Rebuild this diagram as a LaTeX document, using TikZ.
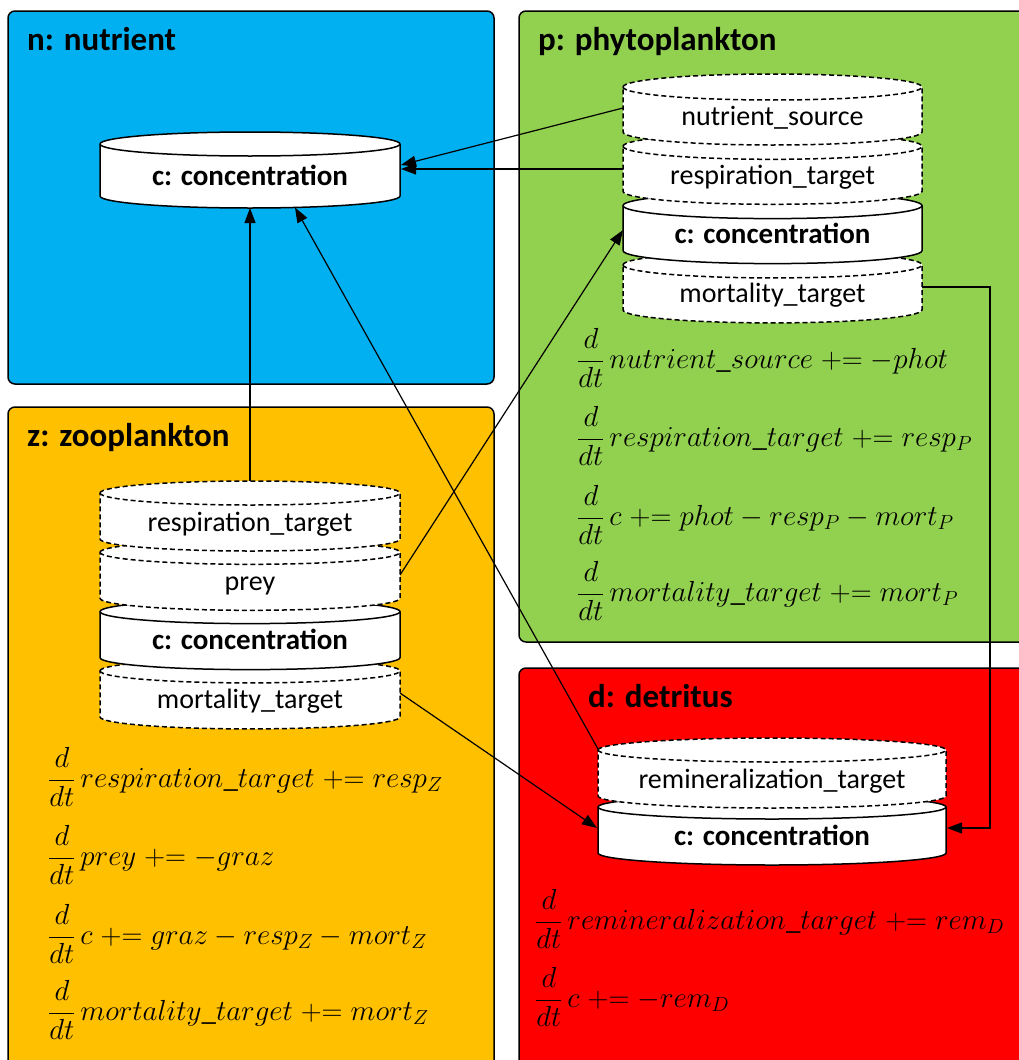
\RequirePackage{fix-cm}
\documentclass[tikz,border=0pt]{standalone}
\usepackage{fontspec}
\setmainfont{Carlito}
\usetikzlibrary{arrows.meta}

\definecolor{nblue}{HTML}{00B0F0}
\definecolor{pgreen}{HTML}{92D050}
\definecolor{zorange}{HTML}{FFC000}
\definecolor{dred}{HTML}{FF0000}

% "+=" as one relation
\newcommand{\pe}{\mathrel{+}\mathrel{=}}
\newcommand{\ddt}{\frac{d}{dt}\,}

% One can-shaped segment of a stacked cylinder:
% #1 centre x, #2 half width, #3 y of top ellipse centre, #4 side height, #5 ellipse half height, #6 style
\newcommand{\canseg}[6]{%
  \path[#6] ({#1-#2},#3) arc[start angle=180,end angle=0,x radius=#2pt,y radius=#5pt]
     -- ({#1+#2},{#3+#4}) arc[start angle=0,end angle=-180,x radius=#2pt,y radius=#5pt] -- cycle;
  \path[#6,fill=none] ({#1-#2},#3) arc[start angle=180,end angle=360,x radius=#2pt,y radius=#5pt];
}

\tikzset{
  panel/.style={draw=black, line width=1.5pt, rounded corners=7pt},
  title/.style={anchor=base west, inner sep=0pt, font=\fontsize{33}{40}\selectfont\bfseries},
  lbl/.style={inner sep=0pt, text height=20pt, text depth=6pt, font=\fontsize{28}{34}\selectfont},
  clbl/.style={lbl, font=\fontsize{29}{34}\selectfont\bfseries},
  eqn/.style={anchor=base west, inner sep=0pt, font=\fontsize{29}{35}\selectfont},
  solidseg/.style={draw=black, fill=white, line width=1.5pt},
  dashseg/.style={solidseg, dash pattern=on 5pt off 3pt},
  flow/.style={draw=black, line width=1.2pt, -{Triangle[length=15pt,width=11pt]}},
}

\begin{document}
\begin{tikzpicture}[x=1pt,y=-1pt]
\useasboundingbox (0,0) rectangle (1019,1060);
\clip (0,0) rectangle (1019,1060);

% compartments
\path[panel, fill=nblue]   (8,11)    rectangle (494,384);
\path[panel, fill=pgreen]  (519,11)  rectangle (1040,642);
\path[panel, fill=zorange] (8,407)   rectangle (494,1080);
\path[panel, fill=dred]    (519,668) rectangle (1040,1080);

\node[title] (ntitle) at (27,50)   {n: nutrient};
\node[title] (ptitle) at (538,50)  {p: phytoplankton};
\node[title] (ztitle) at (27,446)  {z: zooplankton};
\node[title] (dtitle) at (588,707) {d: detritus};

% nutrient
\canseg{250}{150}{144}{52}{12}{solidseg}
\node[clbl] (nc) at (250,178) {c: concentration};

% phytoplankton stack (bottom segment first)
\canseg{772.5}{149.5}{264.9}{45}{13}{dashseg}
\canseg{772.5}{149.5}{205.6}{45}{13}{solidseg}
\canseg{772.5}{149.5}{146.3}{45}{13}{dashseg}
\canseg{772.5}{149.5}{87}{45}{13}{dashseg}
\node[lbl]  (pns) at (772.5,118)   {nutrient\_source};
\node[lbl]  (prt) at (772.5,177.3) {respiration\_target};
\node[clbl] (pc)  at (772.5,236.6) {c: concentration};
\node[lbl]  (pmt) at (772.5,295.9) {mortality\_target};

% zooplankton stack
\canseg{250}{150}{670.9}{46}{12}{dashseg}
\canseg{250}{150}{611.6}{46}{12}{solidseg}
\canseg{250}{150}{552.3}{46}{12}{dashseg}
\canseg{250}{150}{493}{46}{12}{dashseg}
\node[lbl]  (zrt) at (250,524)   {respiration\_target};
\node[lbl]  (zpr) at (250,583.3) {prey};
\node[clbl] (zc)  at (250,642.6) {c: concentration};
\node[lbl]  (zmt) at (250,701.9) {mortality\_target};

% detritus stack
\canseg{772}{174}{807}{46}{12}{solidseg}
\canseg{772}{174}{750}{46}{12}{dashseg}
\node[lbl]  (drt) at (772,781) {remineralization\_target};
\node[clbl] (dc)  at (772,838) {c: concentration};

% rate equations
\node[eqn] (peq1) at (577,368) {$\displaystyle\ddt nutrient\_source \pe -phot$};
\node[eqn] (peq2) at (577,446) {$\displaystyle\ddt respiration\_target \pe resp_P$};
\node[eqn] (peq3) at (577,525) {$\displaystyle\ddt c \pe phot - resp_P - mort_P$};
\node[eqn] (peq4) at (577,601) {$\displaystyle\ddt mortality\_target \pe mort_P$};

\node[eqn] (zeq1) at (48,787)  {$\displaystyle\ddt respiration\_target \pe resp_Z$};
\node[eqn] (zeq2) at (48,865)  {$\displaystyle\ddt prey \pe -graz$};
\node[eqn] (zeq3) at (48,944)  {$\displaystyle\ddt c \pe graz - resp_Z - mort_Z$};
\node[eqn] (zeq4) at (48,1020) {$\displaystyle\ddt mortality\_target \pe mort_Z$};

\node[eqn] (deq1) at (535,929)  {$\displaystyle\ddt remineralization\_target \pe rem_D$};
\node[eqn] (deq2) at (535,1007) {$\displaystyle\ddt c \pe -rem_D$};

% attachment points on the cylinders
\coordinate (nc-e1)  at (401,165);
\coordinate (nc-e2)  at (401,169);
\coordinate (nc-s1)  at (250,208);
\coordinate (nc-s2)  at (295,207.5);
\coordinate (pns-w)  at (623,108);
\coordinate (prt-w)  at (623,169);
\coordinate (pc-w)   at (623,230);
\coordinate (pmt-e)  at (922,287);
\coordinate (pmt-bend) at (990,287);
\coordinate (zrt-n)  at (250,481);
\coordinate (zpr-e)  at (400,575);
\coordinate (zmt-e)  at (400,693);
\coordinate (drt-nw) at (598,749);
\coordinate (dc-w)   at (597,828);
\coordinate (dc-e)   at (947,828);

% fluxes
\draw[flow] (pns-w)  -- (nc-e1);
\draw[flow] (prt-w)  -- (nc-e2);
\draw[flow] (zrt-n)  -- (nc-s1);
\draw[flow] (drt-nw) -- (nc-s2);
\draw[flow] (zpr-e)  -- (pc-w);
\draw[flow] (zmt-e)  -- (dc-w);
\draw[flow] (pmt-e)  -- (pmt-bend) |- (dc-e);
\end{tikzpicture}
\end{document}
